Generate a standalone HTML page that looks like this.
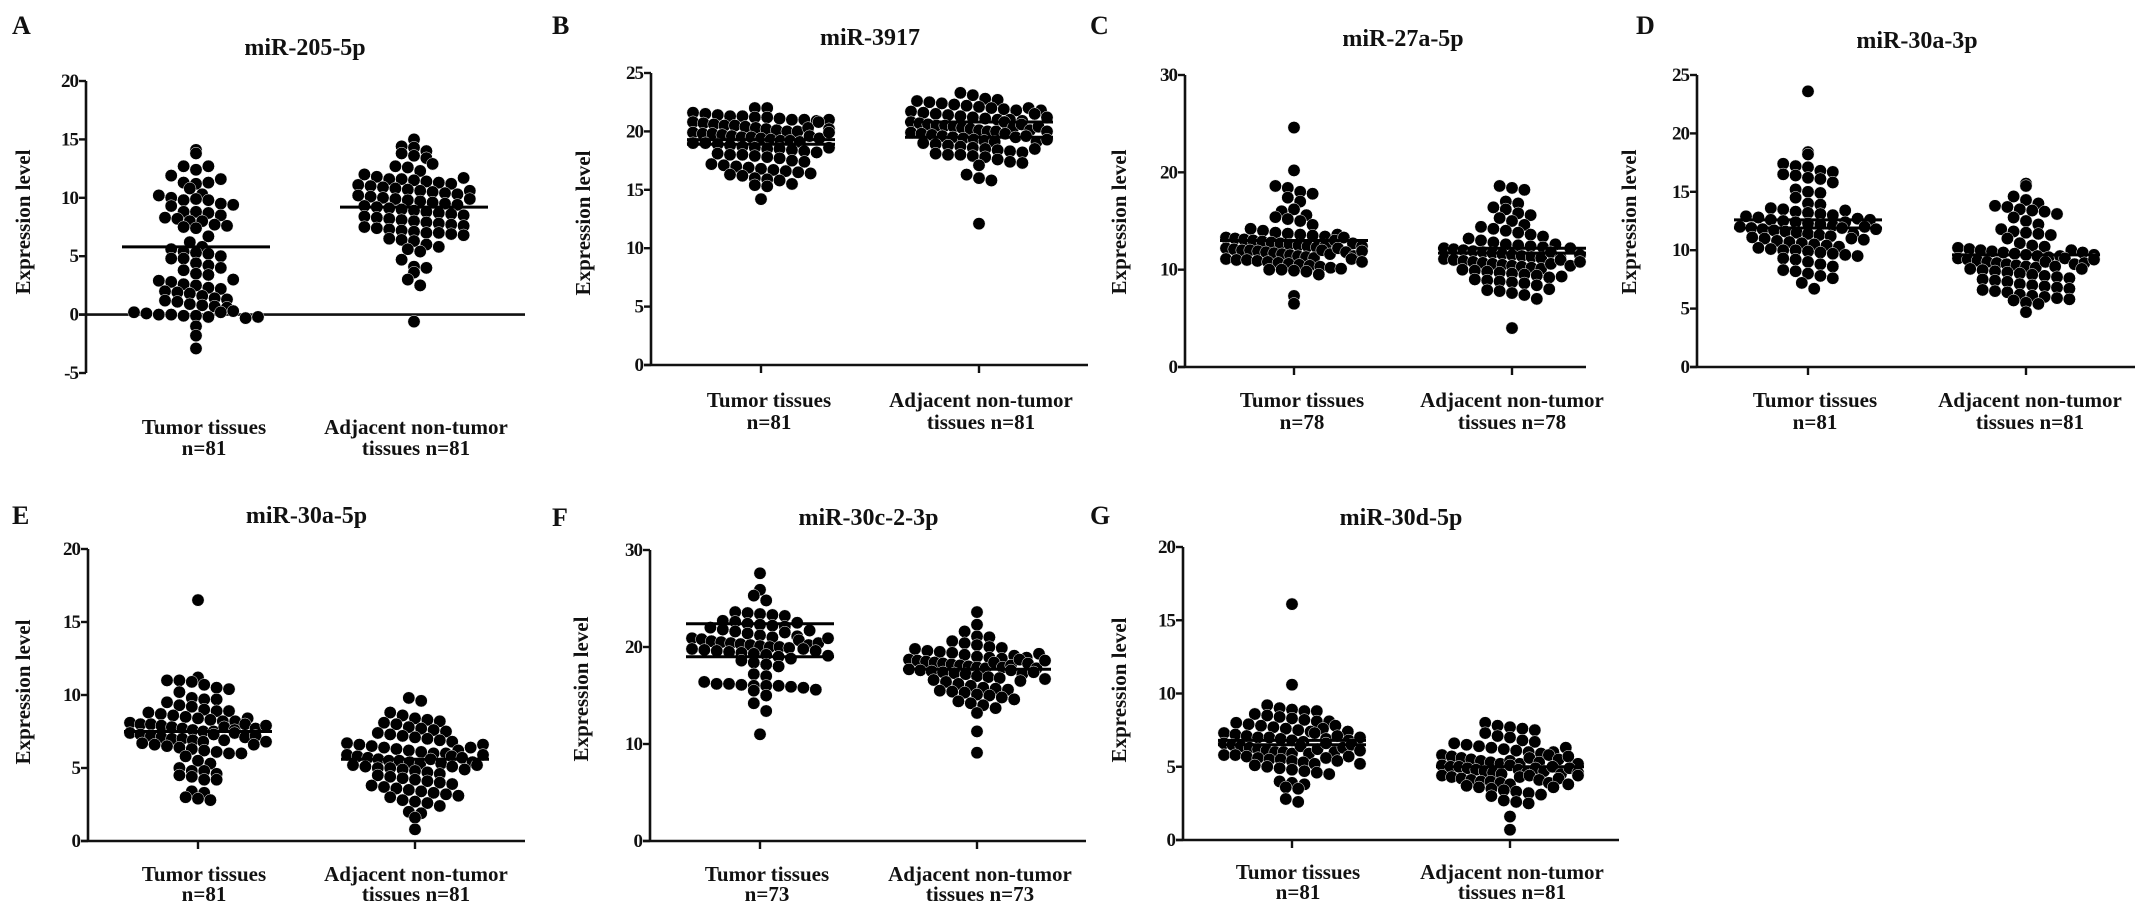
<!DOCTYPE html>
<html><head><meta charset="utf-8"><title>miRNA expression scatter plots</title>
<style>
html,body{margin:0;padding:0;background:#fff;}
svg{display:block;}
text{font-family:"Liberation Serif",serif;font-weight:bold;fill:#111;}
</style></head>
<body>
<svg id="fig" width="2150" height="922" viewBox="0 0 2150 922" xmlns="http://www.w3.org/2000/svg"></svg>
<script>
// ---- data (expression values per group) ----
const categories = ["Tumor tissues", "Adjacent non-tumor"];
const panelTitles = ["miR-205-5p","miR-3917","miR-27a-5p","miR-30a-3p","miR-30a-5p","miR-30c-2-3p","miR-30d-5p"];
const panelLetters = ["A","B","C","D","E","F","G"];
const sampleSizes = [81,81,78,81,81,73,81];
const yTicksA = [-5,0,5,10,15,20];
const yTicks25 = [0,5,10,15,20,25];
const yTicks30 = [0,10,20,30];
const yTicks20 = [0,5,10,15,20];

const aTumor = [14.1,13.8,12.7,12.4,12.7,11.9,11.3,11.2,11.3,11.6,10.8,10.3,10.2,10.0,9.8,9.9,9.8,9.5,9.4,9.3,8.8,8.8,8.7,8.5,8.3,8.2,8.0,8.0,7.7,7.5,7.4,7.6,6.7,6.2,5.8,5.6,5.4,5.3,5.2,5.0,4.8,4.8,4.4,4.2,4.0,3.8,3.5,3.4,2.9,2.8,2.6,2.5,2.3,2.2,2.0,1.9,1.8,1.6,1.4,1.2,1.1,0.9,0.8,0.7,0.6,0.2,0.1,0.0,0.0,-0.1,-0.1,-0.2,0.2,0.3,-0.3,-0.2,-1.0,-1.8,-2.9,1.3,3.0];
const aAdj = [15.0,14.4,14.3,14.0,13.8,13.6,13.4,12.7,12.6,12.3,12.0,11.8,11.6,11.6,11.5,11.4,11.3,11.2,11.1,11.0,10.9,10.8,10.7,10.6,10.5,10.4,10.3,10.2,10.1,10.0,9.9,9.8,9.7,9.6,9.5,9.4,9.3,9.2,9.1,9.0,8.9,8.8,8.7,8.6,8.5,8.4,8.3,8.2,8.1,8.0,7.9,7.8,7.7,7.6,7.5,7.4,7.3,7.2,7.1,7.0,7.0,6.9,6.8,6.5,6.4,6.3,6.0,5.8,5.6,5.4,4.7,4.1,4.0,3.6,3.0,2.5,-0.6,12.9,11.7,10.6,9.9];
const bTumor = [22.0,22.0,21.6,21.5,21.4,21.3,21.3,21.2,21.2,21.1,21.0,21.0,20.9,20.8,20.7,20.6,20.5,20.5,20.4,20.3,20.2,20.1,20.0,20.0,19.9,19.8,19.8,19.7,19.6,19.5,19.5,19.4,19.3,19.2,19.2,19.1,19.0,19.0,18.9,18.8,18.7,18.6,18.5,18.5,18.4,18.3,18.2,18.1,18.0,18.0,17.9,17.8,17.7,17.5,17.4,17.2,17.1,17.0,16.9,16.8,16.7,16.6,16.5,16.4,16.3,16.2,16.0,15.9,15.8,15.5,15.4,15.3,14.2,20.3,19.6,20.8,21.0,19.4,18.6,20.2,19.9];
const bAdj = [23.3,23.1,22.8,22.7,22.6,22.5,22.4,22.3,22.2,22.1,22.0,21.9,21.8,21.7,21.6,21.5,21.4,21.3,21.2,21.1,21.0,21.0,20.9,20.8,20.7,20.6,20.5,20.5,20.4,20.3,20.2,20.1,20.0,20.0,19.9,19.8,19.7,19.6,19.5,19.4,19.3,19.2,19.1,19.0,18.9,18.8,18.7,18.6,18.5,18.4,18.3,18.2,18.1,18.0,18.0,17.9,17.8,17.6,17.4,17.3,17.1,16.3,16.0,15.8,12.1,21.5,20.8,20.3,19.8,19.5,22.0,21.2,20.6,20.1,19.6,19.1,18.5,20.4,21.8,20.0,19.3];
const cTumor = [24.6,20.2,18.6,18.4,18.0,17.8,17.4,17.0,16.0,16.2,15.6,15.4,15.2,15.0,14.6,14.2,14.0,13.8,13.7,13.6,13.5,13.4,13.3,13.2,13.1,13.0,12.9,12.8,12.7,12.6,12.5,12.4,12.3,12.2,12.1,12.0,12.0,11.9,11.8,11.7,11.6,11.5,11.4,11.3,11.2,11.1,11.0,11.0,10.9,10.8,10.7,10.6,10.5,10.4,10.3,10.2,10.1,10.0,10.0,9.9,9.8,9.5,7.3,6.5,12.5,12.0,11.6,13.0,12.2,11.8,11.4,13.3,12.7,11.1,10.8,12.4,13.6,11.9];
const cAdj = [18.6,18.4,18.2,17.0,16.8,16.4,16.2,15.8,15.6,15.3,15.0,14.6,14.4,14.2,14.0,13.8,13.6,13.4,13.2,13.0,12.8,12.6,12.5,12.4,12.3,12.2,12.1,12.0,11.9,11.8,11.7,11.6,11.5,11.4,11.3,11.2,11.1,11.0,10.9,10.8,10.7,10.6,10.5,10.4,10.3,10.2,10.1,10.0,9.9,9.8,9.7,9.6,9.5,9.4,9.2,9.0,8.9,8.8,8.7,8.6,8.4,8.0,7.9,7.8,7.6,7.4,7.0,4.0,11.8,11.2,10.6,12.2,11.0,10.4,9.3,11.5,12.6,10.8];
const dTumor = [23.6,18.4,18.2,17.4,17.2,17.1,16.8,16.7,16.5,16.4,16.2,16.1,15.8,15.2,15.0,14.9,14.5,14.0,13.9,13.6,13.5,13.3,13.2,13.1,13.0,12.9,12.8,12.6,12.5,12.4,12.3,12.2,12.1,12.0,11.9,11.8,11.7,11.6,11.5,11.4,11.3,11.2,11.1,11.0,10.8,10.7,10.6,10.5,10.4,10.3,10.2,10.1,10.0,10.0,9.9,9.8,9.7,9.6,9.5,9.3,9.2,9.0,8.8,8.6,8.3,8.2,8.0,7.8,7.6,7.2,6.7,12.4,11.9,11.4,12.7,12.0,11.0,13.4,10.9,12.6,11.8];
const dAdj = [15.7,15.5,14.6,14.3,14.0,13.8,13.7,13.5,13.4,13.3,13.1,12.8,12.5,12.2,11.8,11.6,11.5,11.4,11.3,11.0,10.6,10.4,10.3,10.2,10.1,10.0,9.9,9.8,9.7,9.6,9.5,9.4,9.3,9.2,9.1,9.0,8.9,8.8,8.7,8.6,8.5,8.4,8.3,8.2,8.1,8.0,7.9,7.8,7.7,7.6,7.5,7.4,7.3,7.1,7.0,6.9,6.8,6.7,6.6,6.5,6.4,6.2,6.1,6.0,5.9,5.8,5.7,5.5,5.4,4.7,9.5,9.0,8.6,10.0,9.3,8.8,9.8,8.9,9.6,8.4,9.2];
const eTumor = [16.5,11.2,11.0,11.0,10.9,10.7,10.5,10.4,10.2,9.8,9.7,9.7,9.5,9.3,9.2,9.0,8.9,8.9,8.8,8.7,8.6,8.5,8.4,8.3,8.2,8.1,8.0,8.0,7.9,7.8,7.7,7.6,7.5,7.5,7.4,7.3,7.2,7.1,7.0,7.0,6.9,6.8,6.7,6.6,6.5,6.4,6.3,6.2,6.1,6.0,6.0,5.8,5.5,5.3,5.0,4.8,4.8,4.6,4.5,4.4,4.2,4.2,3.4,3.3,3.0,2.9,2.8,7.8,7.3,7.6,8.2,6.9,7.4,8.0,7.1,7.7,6.6,8.4,7.2,7.9,6.8];
const eAdj = [9.8,9.6,8.8,8.6,8.4,8.3,8.2,8.1,8.0,7.8,7.7,7.6,7.5,7.4,7.3,7.2,7.1,7.0,6.9,6.8,6.7,6.6,6.5,6.4,6.3,6.2,6.1,6.0,5.9,5.8,5.7,5.6,5.5,5.5,5.4,5.3,5.2,5.1,5.0,5.0,4.9,4.8,4.7,4.6,4.5,4.4,4.3,4.2,4.1,4.0,3.9,3.8,3.7,3.6,3.5,3.4,3.3,3.2,3.1,3.0,2.8,2.7,2.6,2.4,2.0,1.9,1.6,0.8,5.6,5.3,5.8,6.0,5.1,5.7,6.2,4.9,5.4,5.9,6.4,5.2,6.6];
const fTumor = [27.6,25.9,25.3,24.8,23.6,23.5,23.4,23.3,23.2,22.7,22.6,22.4,22.3,22.2,22.1,22.0,21.8,21.6,21.4,21.2,21.0,20.9,20.8,20.6,20.5,20.4,20.3,20.2,20.1,20.0,20.0,19.9,19.8,19.7,19.6,19.5,19.4,19.3,19.2,19.0,18.8,18.6,18.4,18.2,18.0,17.2,17.0,16.4,16.2,16.2,16.1,16.0,16.0,16.0,15.9,15.8,15.6,15.5,15.0,14.2,13.4,11.0,21.5,20.7,20.2,19.8,21.1,22.5,20.4,19.6,21.7,20.9,19.1];
const fAdj = [23.6,22.3,21.6,21.1,21.0,20.6,20.4,20.2,20.0,19.9,19.8,19.6,19.5,19.4,19.2,19.0,18.9,18.8,18.7,18.6,18.5,18.4,18.3,18.2,18.1,18.0,17.9,17.8,17.7,17.6,17.5,17.4,17.3,17.2,17.0,16.9,16.8,16.6,16.4,16.2,16.0,15.8,15.7,15.6,15.5,15.4,15.3,15.1,15.0,14.8,14.6,14.4,14.2,14.0,13.7,13.2,11.3,9.1,18.4,17.9,18.1,17.6,18.7,17.2,19.1,18.3,17.4,16.7,18.9,19.3,17.8,16.5,18.6];
const gTumor = [16.1,10.6,9.2,9.0,8.9,8.8,8.8,8.6,8.5,8.4,8.3,8.2,8.1,8.0,7.9,7.8,7.7,7.6,7.5,7.4,7.3,7.2,7.1,7.0,7.0,6.9,6.8,6.7,6.6,6.5,6.4,6.3,6.2,6.1,6.0,6.0,5.9,5.8,5.8,5.7,5.6,5.5,5.5,5.4,5.3,5.2,5.1,5.0,4.9,4.8,4.7,4.6,4.5,4.0,3.9,3.8,3.6,3.5,2.8,2.6,7.3,6.9,6.4,7.6,5.9,6.2,7.1,6.6,5.6,7.8,6.0,6.8,5.4,7.4,6.3,5.7,8.1,6.5,5.2,7.0,6.1];
const gAdj = [8.0,7.8,7.7,7.6,7.5,7.3,7.1,7.0,6.8,6.7,6.6,6.5,6.4,6.3,6.2,6.1,6.0,5.9,5.8,5.7,5.6,5.5,5.4,5.3,5.2,5.1,5.0,5.0,4.9,4.8,4.7,4.6,4.5,4.4,4.3,4.2,4.1,4.0,4.0,3.9,3.8,3.7,3.6,3.5,3.4,3.3,3.2,3.1,3.0,2.7,2.6,2.5,1.6,0.7,5.1,4.8,5.4,4.6,5.2,4.3,5.6,4.9,4.4,5.3,4.1,5.8,4.7,3.9,5.0,4.5,6.0,4.2,5.5,3.8,4.9,5.7,4.4,6.3,3.6,5.2,4.6];

// summary lines (mean / error bars) per group
const aLines = [[5.8],[9.2]];
const bLines = [[18.9,19.3],[19.5,20.8]];
const cLines = [[13.0],[11.7,12.2]];
const dLines = [[11.9,12.6],[9.6]];
const eLines = [[7.5],[5.6]];
const fLines = [[19.0,22.4],[17.7]];
const gLines = [[6.5,6.8],[5.0]];

// ---- layout (pixels) ----
const layout = [
 {axX:86, yTopPx:81, yBotPx:373, ymin:-5, ymax:20, ticks:yTicksA, xEnd:525, cx:[196,414], catTicks:false, tY:47, lY:25, lX:12, labX:[204,416], labY:[427,448], ylY:222, ylX:23, data:[aTumor,aAdj], lines:aLines},
 {axX:651, yTopPx:73, yBotPx:365, ymin:0, ymax:25, ticks:yTicks25, xEnd:1088, cx:[761,979], catTicks:true, tY:37, lY:25, lX:552, labX:[769,981], labY:[400,422], ylY:223, ylX:583, data:[bTumor,bAdj], lines:bLines},
 {axX:1185, yTopPx:75, yBotPx:367, ymin:0, ymax:30, ticks:yTicks30, xEnd:1586, cx:[1294,1512], catTicks:true, tY:38, lY:25, lX:1090, labX:[1302,1512], labY:[400,422], ylY:222, ylX:1119, data:[cTumor,cAdj], lines:cLines},
 {axX:1697, yTopPx:75, yBotPx:367, ymin:0, ymax:25, ticks:yTicks25, xEnd:2135, cx:[1808,2026], catTicks:true, tY:40, lY:25, lX:1636, labX:[1815,2030], labY:[400,422], ylY:222, ylX:1629, data:[dTumor,dAdj], lines:dLines},
 {axX:88, yTopPx:549, yBotPx:841, ymin:0, ymax:20, ticks:yTicks20, xEnd:525, cx:[198,415], catTicks:true, tY:515, lY:515, lX:12, labX:[204,416], labY:[874,894], ylY:692, ylX:23, data:[eTumor,eAdj], lines:eLines},
 {axX:650, yTopPx:550, yBotPx:841, ymin:0, ymax:30, ticks:yTicks30, xEnd:1086, cx:[760,977], catTicks:true, tY:517, lY:517, lX:552, labX:[767,980], labY:[874,894], ylY:689, ylX:581, data:[fTumor,fAdj], lines:fLines},
 {axX:1183, yTopPx:547, yBotPx:840, ymin:0, ymax:20, ticks:yTicks20, xEnd:1619, cx:[1292,1510], catTicks:true, tY:517, lY:515, lX:1090, labX:[1298,1512], labY:[872,892], ylY:690, ylX:1119, data:[gTumor,gAdj], lines:gLines}
];

const NS = "http://www.w3.org/2000/svg";
const svg = document.getElementById("fig");
const R = 6.2;
const MAXW = 68;
function mk(tag, attrs, parent){
  const e = document.createElementNS(NS, tag);
  for (const k in attrs) e.setAttribute(k, attrs[k]);
  (parent||svg).appendChild(e);
  return e;
}
// GraphPad-like binned scatter: points in the same vertical bin form a row
function swarm(vals, cx, ys){
  const bin = R * 1.7;
  const rows = {};
  vals.forEach(v => {
    const y = ys(v);
    const k = Math.round(y / bin);
    (rows[k] = rows[k] || []).push(y);
  });
  const out = [];
  Object.keys(rows).forEach(k => {
    const r = rows[k];
    const n = r.length;
    let sp = 2 * R * 1.0;
    if ((n - 1) * sp > 2 * MAXW) sp = 2 * MAXW / (n - 1);
    const shift = (Number(k) % 2 === 0 || n > 1) ? 0 : 0;
    r.forEach((y, i) => {
      out.push({x: cx + (i - (n - 1) / 2) * sp + shift, y: y});
    });
  });
  return out;
}

layout.forEach((L, pi) => {
  const g = mk("g", {});
  
  
  const ys = v => L.yBotPx + (v - L.ymin) * (L.yTopPx - L.yBotPx) / (L.ymax - L.ymin);

  const letter = mk("text", {x:L.lX, y:L.lY + 9, "font-size":26}, g);
  letter.textContent = panelLetters[pi];
  
  

  const title = mk("text", {x:(L.cx[0]+L.cx[1])/2, y:L.tY + 8, "font-size":24, "text-anchor":"middle"}, g);
  title.textContent = panelTitles[pi];
  
  

  const yl = mk("text", {x:0, y:0, "font-size":21, "text-anchor":"middle", transform:`translate(${L.ylX + 7},${L.ylY}) rotate(-90)`}, g);
  yl.textContent = "Expression level";
  
  

  const ya = mk("line", {x1:L.axX, y1:ys(L.ymax), x2:L.axX, y2:ys(L.ymin), stroke:"#111", "stroke-width":2.6}, g);
  
  
  L.ticks.forEach(t => {
    const tk = mk("line", {x1:L.axX - 7, y1:ys(t), x2:L.axX, y2:ys(t), stroke:"#111", "stroke-width":2.4}, g);
    
    
    const tl = mk("text", {x:L.axX - 8, y:ys(t) + 6, "font-size":19, "text-anchor":"end", "letter-spacing":"-1"}, g);
    tl.textContent = String(t);
    
    
  });
  const y0 = ys(0);
  const xa = mk("line", {x1:L.axX - 7, y1:y0, x2:L.xEnd, y2:y0, stroke:"#111", "stroke-width":2.6}, g);
  
  

  [0,1].forEach(ci => {
    if (L.catTicks){
      const ct = mk("line", {x1:L.cx[ci], y1:y0, x2:L.cx[ci], y2:y0 + 8, stroke:"#111", "stroke-width":2.4}, g);
      
      
    }
    const n = sampleSizes[pi];
    const l1 = mk("text", {x:L.labX[ci], y:L.labY[0] + 7, "font-size":21, "text-anchor":"middle"}, g);
    l1.textContent = categories[ci];
    
    
    const l2 = mk("text", {x:L.labX[ci], y:L.labY[1] + 7, "font-size":21, "text-anchor":"middle"}, g);
    l2.textContent = ci === 0 ? "n=" + n : "tissues n=" + n;
    
    

    const pts = swarm(L.data[ci], L.cx[ci], ys);
    pts.forEach(p => {
      const c = mk("circle", {cx:p.x.toFixed(2), cy:p.y.toFixed(2), r:R, fill:"#000", stroke:"#fff", "stroke-width":0.5}, g);
      
      
    });
    L.lines[ci].forEach(v => {
      const ln = mk("line", {x1:L.cx[ci] - 74, y1:ys(v), x2:L.cx[ci] + 74, y2:ys(v), stroke:"#000", "stroke-width":3}, g);
      
      
    });
  });
});
</script>
</body></html>
